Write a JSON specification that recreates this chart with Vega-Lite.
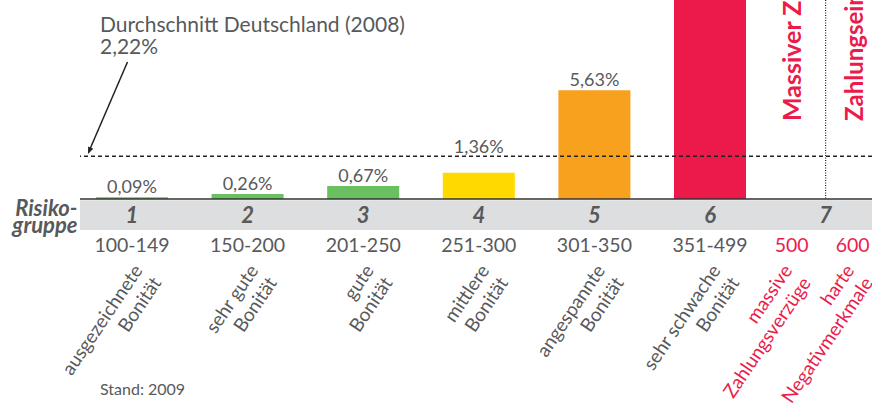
{
  "$schema": "https://vega.github.io/schema/vega-lite/v6.json",
  "width": 792,
  "height": 199,
  "autosize": "none",
  "padding": {"left": 80, "top": 0, "right": 0, "bottom": 204},
  "background": "white",
  "config": {"font": "Lato", "view": {"stroke": null}},
  "datasets": {
    "groups": [
      {"grp": "1", "sub": "m", "value": 0.09, "label": "0,09%", "range": "100-149", "desc": "ausgezeichnete\nBonität"},
      {"grp": "2", "sub": "m", "value": 0.26, "label": "0,26%", "range": "150-200", "desc": "sehr gute\nBonität"},
      {"grp": "3", "sub": "m", "value": 0.67, "label": "0,67%", "range": "201-250", "desc": "gute\nBonität"},
      {"grp": "4", "sub": "m", "value": 1.36, "label": "1,36%", "range": "251-300", "desc": "mittlere\nBonität"},
      {"grp": "5", "sub": "m", "value": 5.63, "label": "5,63%", "range": "301-350", "desc": "angespannte\nBonität"},
      {"grp": "6", "sub": "m", "value": 17.5, "label": null, "range": "351-499", "desc": "sehr schwache\nBonität"},
      {"grp": "7", "sub": "a", "value": null, "label": null, "range": "500", "desc": "massive\nZahlungsverzüge", "status": "Massiver Zahlungsverzug"},
      {"grp": "7", "sub": "b", "value": null, "label": null, "range": "600", "desc": "harte\nNegativmerkmale", "status": "Zahlungseinstellung"}
    ],
    "avg": [{"note": "Durchschnitt Deutschland (2008)\n2,22%", "value": 2.22}],
    "source": [{"text": "Stand: 2009"}]
  },
  "layer": [
    {
      "data": {"name": "source"},
      "mark": {"type": "rect", "color": "#dddee0"},
      "encoding": {
        "y": {"datum": -0.06, "type": "quantitative", "axis": null},
        "y2": {"datum": -1.606}
      }
    },
    {
      "data": {"name": "groups"},
      "mark": {"type": "bar"},
      "encoding": {
        "x": {
          "field": "grp", "type": "nominal",
          "scale": {"domain": ["1", "2", "3", "4", "5", "6", "7"], "paddingInner": 0.377, "paddingOuter": 0.114, "align": 0.606},
          "axis": {
            "orient": "bottom", "offset": 16, "domain": false, "zindex": 1,
            "ticks": false, "grid": false, "labelPadding": 0, "labelBaseline": "middle", "labelAngle": 0,
            "labelFont": "Lato", "labelFontSize": 22, "labelFontWeight": "bold", "labelFontStyle": "italic", "labelColor": "#58595b",
            "title": ["Risiko-", "gruppe"], "titleX": -3, "titleY": 0, "titleAlign": "right", "titleBaseline": "alphabetic", "titleAngle": 0,
            "titleFont": "Lato", "titleFontSize": 22, "titleFontWeight": "bold", "titleFontStyle": "italic", "titleColor": "#58595b", "titleLineHeight": 17
          }
        },
        "y": {"field": "value", "type": "quantitative", "scale": {"domain": [0, 10.31], "nice": false, "zero": true}, "axis": null},
        "color": {
          "field": "grp", "type": "nominal",
          "scale": {"domain": ["1", "2", "3", "4", "5", "6"], "range": ["#6abf61", "#6abf61", "#6abf61", "#ffd900", "#f7a11f", "#ec1a4a"]},
          "legend": null
        }
      }
    },
    {
      "data": {"name": "groups"},
      "transform": [{"filter": "datum.label != null && datum.grp != '4'"}],
      "mark": {"type": "text", "baseline": "alphabetic", "dy": -4, "fontSize": 18, "color": "#58595b"},
      "encoding": {
        "x": {"field": "grp", "type": "nominal"},
        "y": {"field": "value", "type": "quantitative", "axis": null},
        "text": {"field": "label"}
      }
    },
    {
      "data": {"name": "groups"},
      "transform": [{"filter": "datum.grp == '4'"}],
      "mark": {"type": "text", "baseline": "alphabetic", "dy": -20, "fontSize": 18, "color": "#58595b"},
      "encoding": {
        "x": {"field": "grp", "type": "nominal"},
        "y": {"field": "value", "type": "quantitative", "axis": null},
        "text": {"field": "label"}
      }
    },
    {
      "data": {"name": "avg"},
      "mark": {"type": "rule", "color": "#222222", "strokeWidth": 1.5, "strokeDash": [4, 3]},
      "encoding": {"y": {"field": "value", "type": "quantitative", "axis": null}}
    },
    {
      "data": {"name": "avg"},
      "mark": {"type": "rule", "color": "#333333", "strokeWidth": 1.5},
      "encoding": {"y": {"datum": 0, "type": "quantitative", "axis": null}}
    },
    {
      "data": {"name": "groups"},
      "transform": [{"filter": "datum.sub == 'a'"}],
      "mark": {"type": "rule", "color": "#222222", "strokeWidth": 1.2, "strokeDash": [1, 1.5]},
      "encoding": {"x": {"field": "grp", "type": "nominal"}}
    },
    {
      "data": {"name": "avg"},
      "mark": {"type": "text", "align": "left", "baseline": "alphabetic", "fontSize": 21, "lineHeight": 22, "lineBreak": "\n", "color": "#58595b", "xOffset": -32},
      "encoding": {
        "x": {"datum": "1", "type": "nominal"},
        "y": {"datum": 8.67, "type": "quantitative", "axis": null},
        "text": {"field": "note"}
      }
    },
    {
      "data": {"name": "avg"},
      "mark": {"type": "rule", "color": "#222222", "strokeWidth": 1.5, "xOffset": -4.5, "x2Offset": -42},
      "encoding": {
        "x": {"datum": "1", "type": "nominal"},
        "x2": {"datum": "1"},
        "y": {"datum": 7.1, "type": "quantitative", "axis": null},
        "y2": {"datum": 2.59}
      }
    },
    {
      "data": {"name": "avg"},
      "mark": {"type": "point", "shape": "M0,0L-0.4,-1L0.4,-1Z", "filled": true, "angle": 23, "size": 196, "color": "#222222", "opacity": 1, "xOffset": -44},
      "encoding": {
        "x": {"datum": "1", "type": "nominal"},
        "y": {"datum": 2.33, "type": "quantitative", "axis": null}
      }
    },
    {
      "data": {"name": "groups"},
      "transform": [{"filter": "datum.grp != '7'"}],
      "mark": {"type": "text", "baseline": "middle", "fontSize": 19.5, "color": "#58595b"},
      "encoding": {
        "x": {"field": "grp", "type": "nominal"},
        "y": {"datum": -2.41, "type": "quantitative", "axis": null},
        "text": {"field": "range"}
      }
    },
    {
      "data": {"name": "groups"},
      "transform": [{"filter": "datum.sub == 'a'"}],
      "mark": {"type": "text", "baseline": "middle", "fontSize": 19.5, "color": "#eb1b4b", "xOffset": -34},
      "encoding": {
        "x": {"field": "grp", "type": "nominal"},
        "y": {"datum": -2.41, "type": "quantitative", "axis": null},
        "text": {"field": "range"}
      }
    },
    {
      "data": {"name": "groups"},
      "transform": [{"filter": "datum.sub == 'b'"}],
      "mark": {"type": "text", "baseline": "middle", "fontSize": 19.5, "color": "#eb1b4b", "xOffset": 27},
      "encoding": {
        "x": {"field": "grp", "type": "nominal"},
        "y": {"datum": -2.41, "type": "quantitative", "axis": null},
        "text": {"field": "range"}
      }
    },
    {
      "data": {"name": "groups"},
      "transform": [{"filter": "datum.grp != '7'"}],
      "mark": {"type": "text", "align": "right", "baseline": "top", "angle": -56, "fontSize": 19, "lineHeight": 22.5, "lineBreak": "\n", "color": "#58595b", "xOffset": -1},
      "encoding": {
        "x": {"field": "grp", "type": "nominal"},
        "y": {"datum": -3.26, "type": "quantitative", "axis": null},
        "text": {"field": "desc"}
      }
    },
    {
      "data": {"name": "groups"},
      "transform": [{"filter": "datum.sub == 'a'"}],
      "mark": {"type": "text", "align": "right", "baseline": "top", "angle": -56, "fontSize": 19, "lineHeight": 22.5, "lineBreak": "\n", "color": "#eb1b4b", "xOffset": -45},
      "encoding": {
        "x": {"field": "grp", "type": "nominal"},
        "y": {"datum": -3.26, "type": "quantitative", "axis": null},
        "text": {"field": "desc"}
      }
    },
    {
      "data": {"name": "groups"},
      "transform": [{"filter": "datum.sub == 'b'"}],
      "mark": {"type": "text", "align": "right", "baseline": "top", "angle": -56, "fontSize": 19, "lineHeight": 22.5, "lineBreak": "\n", "color": "#eb1b4b", "xOffset": 17},
      "encoding": {
        "x": {"field": "grp", "type": "nominal"},
        "y": {"datum": -3.26, "type": "quantitative", "axis": null},
        "text": {"field": "desc"}
      }
    },
    {
      "data": {"name": "groups"},
      "transform": [{"filter": "datum.sub == 'a'"}],
      "mark": {"type": "text", "align": "left", "baseline": "middle", "angle": 270, "fontSize": 25, "fontWeight": "bold", "color": "#eb1b4b", "xOffset": -32.3},
      "encoding": {
        "x": {"field": "grp", "type": "nominal"},
        "y": {"datum": 4.04, "type": "quantitative", "axis": null},
        "text": {"field": "status"}
      }
    },
    {
      "data": {"name": "groups"},
      "transform": [{"filter": "datum.sub == 'b'"}],
      "mark": {"type": "text", "align": "left", "baseline": "middle", "angle": 270, "fontSize": 24, "fontWeight": "bold", "color": "#eb1b4b", "xOffset": 30},
      "encoding": {
        "x": {"field": "grp", "type": "nominal"},
        "y": {"datum": 4.04, "type": "quantitative", "axis": null},
        "text": {"field": "status"}
      }
    },
    {
      "data": {"name": "source"},
      "mark": {"type": "text", "align": "left", "baseline": "middle", "fontSize": 16, "color": "#58595b", "xOffset": -32},
      "encoding": {
        "x": {"datum": "1", "type": "nominal"},
        "y": {"datum": -9.9, "type": "quantitative", "axis": null},
        "text": {"field": "text"}
      }
    }
  ]
}
